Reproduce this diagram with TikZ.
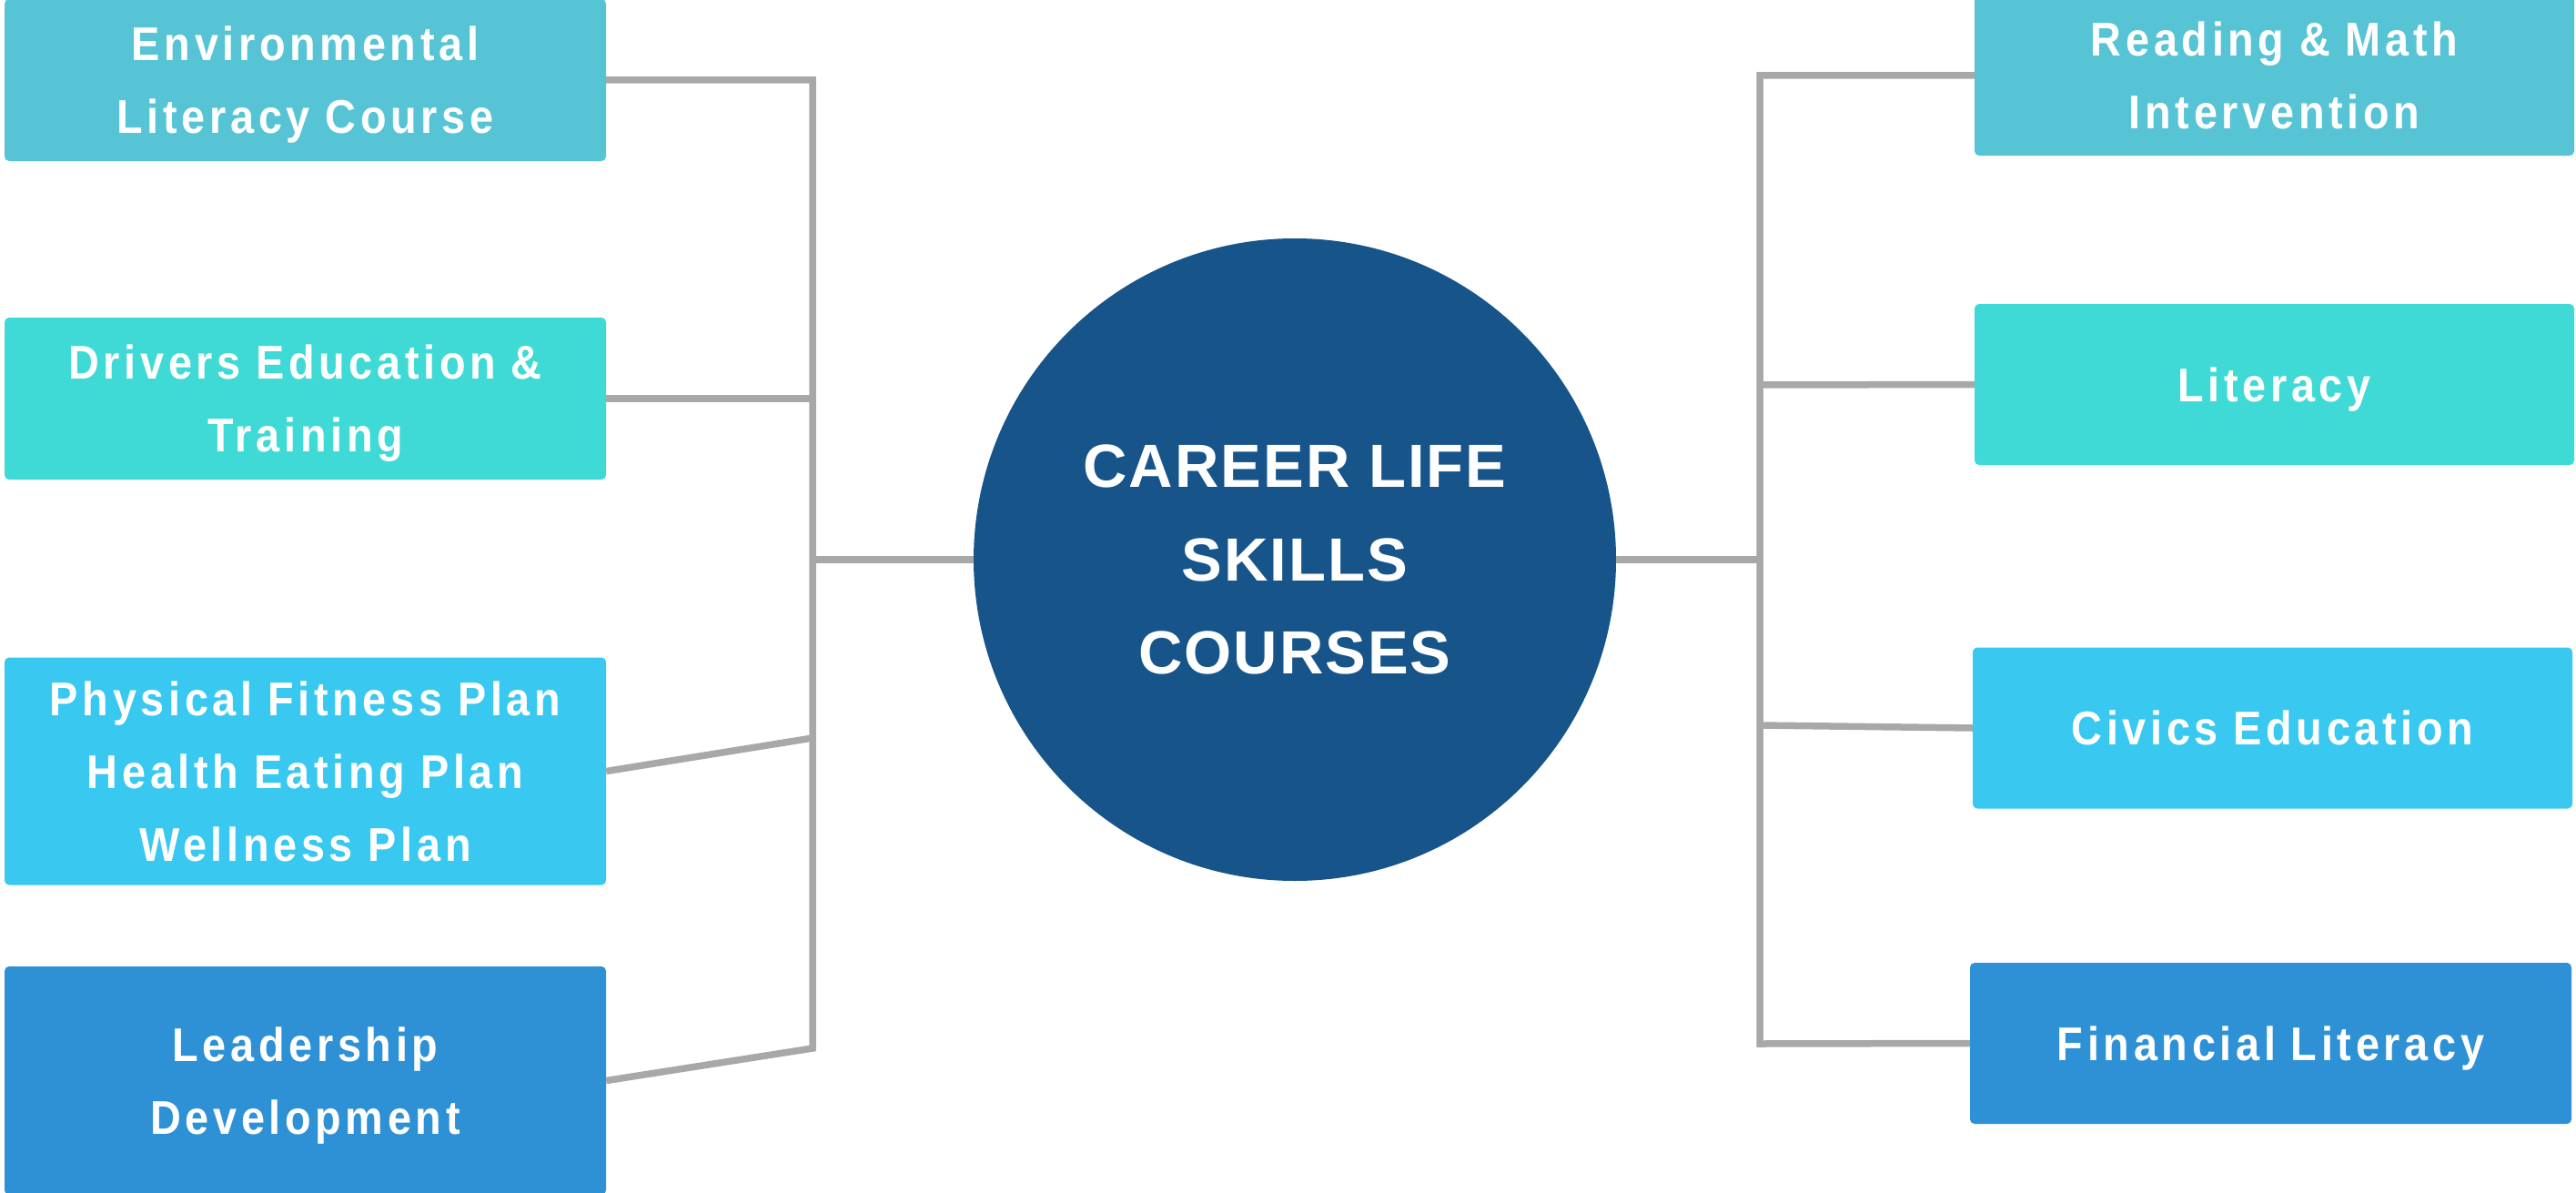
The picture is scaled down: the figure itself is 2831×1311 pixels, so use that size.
\documentclass[tikz,border=0pt]{standalone}
\usepackage{fontspec}
\setmainfont{Liberation Sans}
\newfontfamily\boxfont[FakeStretch=0.9,LetterSpace=9,WordSpace=0.95]{Liberation Sans}
\newfontfamily\hubfont[LetterSpace=3]{Liberation Sans}
\definecolor{cTeal}{HTML}{56C4D4}
\definecolor{cTurq}{HTML}{40DAD6}
\definecolor{cSky}{HTML}{39C8F0}
\definecolor{cBlue}{HTML}{2E91D5}
\definecolor{cHub}{HTML}{16548A}
\definecolor{linegray}{HTML}{A8A8A8}
\begin{document}
\begin{tikzpicture}[x=1pt,y=-1pt,
  box/.style={rounded corners=5pt, minimum width=661pt, inner sep=0pt, align=center, text=white,
    text depth=0pt, font=\fontsize{52}{80}\boxfont\bfseries},
  link/.style={draw=linegray, line width=7.5pt},
  hubnode/.style={circle, fill=cHub, minimum size=706pt, inner sep=0pt, align=center, text=white,
    font=\fontsize{67}{102.5}\hubfont\bfseries}]
\fill[white] (0,0) rectangle (2831,1311);
\useasboundingbox (0,0) rectangle (2831,1311);
% left boxes
\node[box, fill=cTeal, minimum height=178pt] (env) at (335.5,88) {Environmental\\Literacy Course};
\node[box, fill=cTurq, minimum height=178pt] (drv) at (335.5,438) {Drivers Education \&\\Training};
\node[box, fill=cSky, minimum height=250pt] (phys) at (335.5,847.5) {Physical Fitness Plan\\Health Eating Plan\\Wellness Plan};
\node[box, fill=cBlue, minimum height=251pt] (lead) at (335.5,1187.5) {Leadership\\Development};
% right boxes
\node[box, fill=cTeal, minimum width=659pt, minimum height=176pt] (read) at (2499.5,83) {Reading \& Math\\Intervention};
\node[box, fill=cTurq, minimum width=659pt, minimum height=177pt] (lit) at (2499.5,422.5) {Literacy};
\node[box, fill=cSky, minimum width=659pt, minimum height=177pt] (civ) at (2497.5,800) {Civics Education};
\node[box, fill=cBlue, minimum width=661pt, minimum height=177pt] (fin) at (2495.5,1146.5) {Financial Literacy};
% hub
\node[hubnode] (hub) at (1423,615) {CAREER LIFE\\SKILLS\\COURSES};
% junction coordinates
\coordinate (LT) at (893,88);
\coordinate (LD) at (893,438);
\coordinate (LC) at (893,615);
\coordinate (LP) at (893,811);
\coordinate (LB) at (893,1152);
\coordinate (RT) at (1934,83);
\coordinate (RL) at (1934,423);
\coordinate (RH) at (1934,615);
\coordinate (RC) at (1934,797);
\coordinate (RB) at (1934,1147);
% left connectors
\draw[link] (env.east) -- (LT) -- (LB) -- (lead.east);
\draw[link] (drv.east) -- (LD);
\draw[link] (phys.east) -- (LP);
\draw[link] (LC) -- (hub.west);
% right connectors
\draw[link] (read.west) -- (RT) -- (RB) -- (fin.west);
\draw[link] (lit.west) -- (RL);
\draw[link] (civ.west) -- (RC);
\draw[link] (hub.east) -- (RH);
\end{tikzpicture}
\end{document}
